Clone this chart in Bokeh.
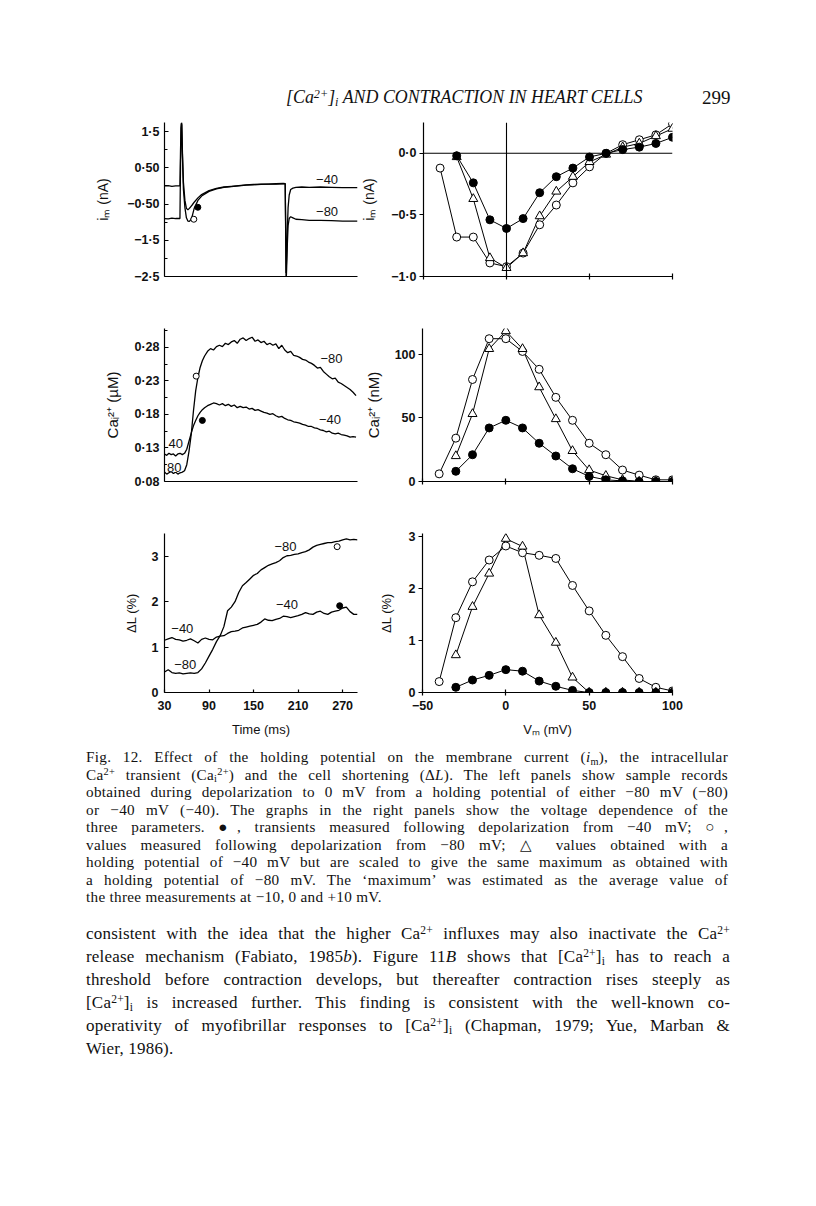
from bokeh.plotting import figure
from bokeh.models import Div, Span, Label, FixedTicker, Range1d
from bokeh.layouts import column, row
from bokeh.embed import file_html
from bokeh.resources import INLINE

# ---------------- data ----------------
# right panels: test potential (mV)
V_open = [-40, -30, -20, -10, 0, 10, 20, 30, 40, 50, 60, 70, 80, 90, 100]
V_rest = [-30, -20, -10, 0, 10, 20, 30, 40, 50, 60, 70, 80, 90, 100]

im_open = [-0.12, -0.68, -0.68, -0.89, -0.92, -0.81, -0.58, -0.42, -0.24, -0.11, 0.00, 0.07, 0.11, 0.15, 0.24]
im_tri = [-0.03, -0.37, -0.85, -0.93, -0.81, -0.51, -0.31, -0.19, -0.07, -0.01, 0.05, 0.08, 0.14, 0.20]
im_fill = [-0.02, -0.24, -0.54, -0.61, -0.53, -0.32, -0.19, -0.12, -0.03, 0.00, 0.03, 0.05, 0.08, 0.13]

ca_open = [6, 34, 80, 112, 112, 102, 88, 66, 48, 30, 21, 9, 5, 1.3, 1.3]
ca_tri = [20, 53, 104, 118, 104, 74, 49, 24, 9, 4.5, 1.3, 0, 0, 0]
ca_fill = [8, 21, 42, 48, 42, 30, 20, 10, 4, 1.3, 0.5, 0, 0, 0]

dl_open = [0.21, 1.44, 2.13, 2.55, 2.82, 2.69, 2.64, 2.58, 2.06, 1.57, 1.10, 0.69, 0.27, 0.10, 0.03]
dl_tri = [0.72, 1.65, 2.29, 2.96, 2.81, 1.49, 0.96, 0.29, 0.00, 0.00, 0.00, 0.00, 0.00, 0.00]
dl_fill = [0.10, 0.24, 0.33, 0.44, 0.41, 0.22, 0.12, 0.04, 0.00, 0.00, 0.00, 0.00, 0.00, 0.00]

# left panels: sample records (time in ms)
im_t = [30, 35, 40, 45, 50.8, 51.6, 52.4, 53.2, 54.2, 55.5, 57.5, 59.5, 61.5, 63.5, 65.5,
        67.5, 70, 75, 80, 90, 100, 110, 120, 130, 140, 150, 160, 170, 180, 190,
        192.6, 193.2, 193.8, 194.5, 195.5, 196.5, 198, 200, 203, 207, 215, 225, 240, 255, 270, 290]
im_40 = [0.00, 0.01, -0.01, 0.00, 0.00, 1.00, 1.70, 1.75, 0.90, 0.10, -0.40, -0.62, -0.66, -0.62, -0.57,
         -0.52, -0.45, -0.33, -0.24, -0.13, -0.07, -0.03, -0.01, 0.01, 0.03, 0.04, 0.05, 0.05, 0.06, 0.07,
         0.06, -1.00, -2.40, -2.00, -1.20, -0.60, -0.25, -0.10, -0.06, -0.04, -0.03, -0.04, -0.03, -0.04, -0.05, -0.05]
im_80 = [-0.90, -0.91, -0.89, -0.90, -0.90, 0.60, 1.60, 1.70, 0.80, -0.10, -0.60, -0.88, -0.97, -0.98, -0.93,
         -0.82, -0.62, -0.40, -0.28, -0.15, -0.08, -0.04, -0.02, 0.00, 0.02, 0.03, 0.04, 0.05, 0.05, 0.06,
         0.06, -1.20, -2.70, -2.30, -1.60, -1.10, -0.90, -0.85, -0.88, -0.92, -0.93, -0.95, -0.95, -0.96, -0.97, -0.97]
im_peak_t = [69.5, 74.9]
im_peak_v = [-0.92, -0.59]

ca_t = [30, 33, 36, 39, 42, 45, 48, 51, 54, 57, 60, 63, 66, 69, 72, 75, 78, 81, 84,
        88, 92, 96, 100, 104, 108, 112, 116, 120, 124, 128, 132, 136, 140, 144, 148, 152, 156, 160, 164,
        168, 172, 176, 180, 184, 188, 192, 196, 200, 204, 208, 212, 216, 220, 224, 228, 232, 236, 240, 244,
        248, 252, 256, 260, 264, 268, 272, 276, 280, 284, 288]
ca_80 = [0.094, 0.091, 0.093, 0.095, 0.092, 0.094, 0.091, 0.093, 0.094, 0.096,
         0.105, 0.125, 0.150, 0.185, 0.215, 0.235, 0.250, 0.260, 0.267,
         0.274, 0.278, 0.276, 0.281, 0.283, 0.281, 0.286, 0.284, 0.288, 0.290,
         0.286, 0.292, 0.294, 0.290, 0.293, 0.295, 0.289, 0.291, 0.287, 0.289,
         0.284, 0.286, 0.283, 0.285, 0.278, 0.283, 0.276, 0.272, 0.274, 0.268,
         0.267, 0.265, 0.262, 0.261, 0.258, 0.256, 0.253, 0.249, 0.250, 0.244,
         0.240, 0.236, 0.233, 0.234, 0.228, 0.226, 0.223, 0.220, 0.217, 0.213, 0.208]
ca_40 = [0.121, 0.119, 0.122, 0.120, 0.121, 0.118, 0.121, 0.122, 0.120, 0.122,
         0.128, 0.140, 0.152, 0.163, 0.171, 0.178, 0.183, 0.187, 0.190,
         0.193, 0.195, 0.197, 0.196, 0.194, 0.196, 0.193, 0.195, 0.192, 0.194,
         0.190, 0.192, 0.190, 0.191, 0.188, 0.189, 0.186, 0.187, 0.185, 0.183,
         0.182, 0.180, 0.181, 0.178, 0.176, 0.177, 0.174, 0.172, 0.171, 0.169,
         0.168, 0.167, 0.165, 0.164, 0.162, 0.162, 0.160, 0.159, 0.157, 0.156,
         0.154, 0.155, 0.152, 0.151, 0.152, 0.150, 0.149, 0.148, 0.146, 0.147, 0.146]
ca_peak_t = [72.7, 81.0]
ca_peak_v = [0.237, 0.171]

dl_t = [30, 35, 40, 45, 50, 55, 60, 65, 70, 75, 80, 85, 90, 95, 100, 105, 110, 115, 120, 125,
        130, 135, 140, 145, 150, 155, 160, 165, 170, 175, 180, 185, 190, 195, 200, 205, 210, 215,
        220, 225, 230, 235, 240, 245, 250, 255, 260, 265, 270, 275, 280, 285, 290]
dl_80 = [0.45, 0.50, 0.44, 0.42, 0.43, 0.41, 0.42, 0.43, 0.42, 0.44,
         0.52, 0.65, 0.80, 0.95, 1.12, 1.25, 1.45, 1.80, 1.88, 2.00,
         2.20, 2.35, 2.42, 2.50, 2.58, 2.62, 2.70, 2.75, 2.80, 2.83,
         2.86, 2.90, 2.97, 3.01, 3.02, 3.04, 3.05, 3.08, 3.10, 3.14,
         3.20, 3.24, 3.26, 3.28, 3.30, 3.30, 3.32, 3.33, 3.36, 3.38,
         3.36, 3.37, 3.36]
dl_40 = [1.15, 1.18, 1.21, 1.17, 1.16, 1.13, 1.15, 1.18, 1.14, 1.09,
         1.17, 1.20, 1.17, 1.16, 1.22, 1.24, 1.25, 1.30, 1.34, 1.35,
         1.37, 1.42, 1.44, 1.46, 1.48, 1.50, 1.55, 1.62, 1.59, 1.58,
         1.61, 1.63, 1.68, 1.67, 1.65, 1.67, 1.69, 1.72, 1.76, 1.73,
         1.72, 1.77, 1.79, 1.74, 1.72, 1.77, 1.79, 1.81, 1.86, 1.88,
         1.78, 1.72, 1.72]
dl_peak_t = [262.6, 266.0]
dl_peak_v = [3.21, 1.91]

# tick labels
im_ticks = [1.5, 0.5, -0.5, -1.5, -2.5]
im_labels = ["1·5", "0·50", "−0·50", "−1·5", "−2·5"]
im_minor = [1.0, 0.0, -1.0, -2.0]
ca_ticks = [0.08, 0.13, 0.18, 0.23, 0.28]
ca_labels = ["0·08", "0·13", "0·18", "0·23", "0·28"]
ca_minor = [0.105, 0.155, 0.205, 0.255, 0.305]
dl_ticks = [0, 1, 2, 3]
dl_labels = ["0", "1", "2", "3"]
t_ticks = [30, 90, 150, 210, 270]
t_labels = ["30", "90", "150", "210", "270"]
imv_ticks = [0.0, -0.5, -1.0]
imv_labels = ["0·0", "−0·5", "−1·0"]
cav_ticks = [0, 50, 100]
cav_labels = ["0", "50", "100"]
v_ticks = [-50, 0, 50, 100]
v_labels = ["−50", "0", "50", "100"]

SANS = "Liberation Sans"
SERIF = "Liberation Serif"


def panel(width, height, fig_left, fig_top, frame, xr, yr):
    fl, ft, fr, fb = frame
    mbl, mbt = fl - fig_left, ft - fig_top
    fw, fh = fr - fl, fb - ft
    p = figure(width=width, height=height, x_range=Range1d(*xr), y_range=Range1d(*yr),
               min_border_left=mbl, min_border_top=mbt,
               min_border_right=width - mbl - fw, min_border_bottom=height - mbt - fh,
               output_backend="svg", toolbar_location=None)
    p.outline_line_color = None
    p.grid.visible = False
    p.background_fill_color = "white"
    p.border_fill_color = "white"
    for ax in (p.xaxis[0], p.yaxis[0]):
        ax.axis_line_color = "black"
        ax.axis_line_width = 1.2
        ax.major_tick_line_color = "black"
        ax.major_tick_line_width = 1.2
        ax.minor_tick_line_color = "black"
        ax.major_label_text_font = SANS
        ax.major_label_text_font_size = "12.5px"
        ax.major_label_text_font_style = "bold"
        ax.major_label_text_color = "#111111"
        ax.axis_label_text_font = SANS
        ax.axis_label_text_font_size = "13px"
        ax.axis_label_text_font_style = "normal"
        ax.axis_label_text_color = "#111111"
    return p


def set_ticks(ax, ticks, labels, minor=None, tin=0, tout=0, mtin=0, standoff=4):
    ax.ticker = FixedTicker(ticks=ticks, minor_ticks=minor or [])
    ax.major_label_overrides = {t: l for t, l in zip(ticks, labels)}
    ax.major_tick_in = tin
    ax.major_tick_out = tout
    ax.minor_tick_in = mtin
    ax.minor_tick_out = 0
    ax.major_label_standoff = standoff


def lbl(p, x, y, text, bg=False):
    lab = Label(x=x, y=y, text=text, text_font=SANS, text_font_size="13px",
                text_align="center", text_baseline="middle", text_color="#111111")
    if bg:
        lab.background_fill_color = "white"
    p.add_layout(lab)


def trace(p, t, v):
    p.line(t, v, line_color="black", line_width=1.3)


def iv(p, x_o, y_o, x_r, y_t, y_f):
    p.line(x_o, y_o, line_color="black", line_width=1)
    p.line(x_r, y_t, line_color="black", line_width=1)
    p.line(x_r, y_f, line_color="black", line_width=1)
    p.scatter(x_o, y_o, marker="circle", size=8, fill_color="white", line_color="black", line_width=1)
    p.scatter(x_r, y_t, marker="triangle", size=9, fill_color="white", line_color="black", line_width=1)
    p.scatter(x_r, y_f, marker="circle", size=8, fill_color="black", line_color="black", line_width=1)


# page geometry (page pixels, window coordinates)
LW, RW = 358, 442
LX0, RX0 = 8, 8 + LW
LF = (172, 365)     # left frames, x
RF = (430, 680)     # right frames, x
TX = (30, 290)
VX = (-50, 100)

# ---------------- row 1 : membrane current ----------------
r1_top, r1_h = 116, 182
p1 = panel(LW, r1_h, LX0, r1_top, (LF[0], 130, LF[1], 284), TX, (-2.5, 1.75))
set_ticks(p1.yaxis[0], im_ticks, im_labels, im_minor, tin=4, mtin=3, standoff=5)
set_ticks(p1.xaxis[0], [], [])
p1.yaxis[0].axis_label = "iₘ (nA)"
p1.yaxis[0].axis_label_text_font_size = "14px"
p1.yaxis[0].axis_label_standoff = 13
trace(p1, im_t, im_40)
trace(p1, im_t, im_80)
p1.scatter(im_peak_t[:1], im_peak_v[:1], marker="circle", size=6, fill_color="white", line_color="black")
p1.scatter(im_peak_t[1:], im_peak_v[1:], marker="circle", size=6, fill_color="black", line_color="black")
lbl(p1, 249, 0.17, "−40")
lbl(p1, 249, -0.71, "−80")

p2 = panel(RW, r1_h, RX0, r1_top, (RF[0], 130, RF[1], 284), VX, (-1.0, 0.25))
set_ticks(p2.yaxis[0], imv_ticks, imv_labels, tout=4, standoff=3)
set_ticks(p2.xaxis[0], v_ticks, ["", "", "", ""], tin=3, tout=3)
p2.yaxis[0].axis_label = "iₘ (nA)"
p2.yaxis[0].axis_label_text_font_size = "14px"
p2.yaxis[0].axis_label_standoff = 11
p2.add_layout(Span(location=0, dimension="width", line_color="black", line_width=1.1))
p2.add_layout(Span(location=0, dimension="height", line_color="black", line_width=1.1))
iv(p2, V_open, im_open, V_rest, im_tri, im_fill)

# ---------------- row 2 : calcium ----------------
r2_top, r2_h = 298, 210
p3 = panel(LW, r2_h, LX0, r2_top, (LF[0], 327, LF[1], 489), TX, (0.08, 0.308))
set_ticks(p3.yaxis[0], ca_ticks, ca_labels, ca_minor, tin=4, mtin=3, standoff=5)
set_ticks(p3.xaxis[0], [], [])
p3.yaxis[0].axis_label = "Caᵢ²⁺ (µM)"
p3.yaxis[0].axis_label_text_font_size = "15px"
p3.yaxis[0].axis_label_standoff = 10
trace(p3, ca_t, ca_80)
trace(p3, ca_t, ca_40)
p3.scatter(ca_peak_t[:1], ca_peak_v[:1], marker="circle", size=6, fill_color="white", line_color="black")
p3.scatter(ca_peak_t[1:], ca_peak_v[1:], marker="circle", size=6, fill_color="black", line_color="black")
lbl(p3, 255, 0.263, "−80")
lbl(p3, 253, 0.173, "−40")
lbl(p3, 45, 0.136, "40", bg=True)
lbl(p3, 43, 0.101, "80", bg=True)

p4 = panel(RW, r2_h, RX0, r2_top, (RF[0], 336, RF[1], 491), VX, (0, 120))
set_ticks(p4.yaxis[0], cav_ticks, cav_labels, tout=4, standoff=3)
set_ticks(p4.xaxis[0], v_ticks, ["", "", "", ""], tin=3, tout=3)
p4.yaxis[0].axis_label = "Caᵢ²⁺ (nM)"
p4.yaxis[0].axis_label_text_font_size = "15px"
p4.yaxis[0].axis_label_standoff = 10
iv(p4, V_open, ca_open, V_rest, ca_tri, ca_fill)

# ---------------- row 3 : shortening ----------------
r3_top, r3_h = 508, 245
p5 = panel(LW, r3_h, LX0, r3_top, (LF[0], 533, LF[1], 700), TX, (0, 3.5))
set_ticks(p5.yaxis[0], dl_ticks, dl_labels, tin=4, standoff=6)
set_ticks(p5.xaxis[0], t_ticks, t_labels, tin=3, standoff=8)
p5.yaxis[0].axis_label = "ΔL (%)"
p5.yaxis[0].axis_label_standoff = 10
p5.xaxis[0].axis_label = "Time (ms)"
p5.xaxis[0].axis_label_standoff = 9
trace(p5, dl_t, dl_80)
trace(p5, dl_t, dl_40)
p5.scatter(dl_peak_t[:1], dl_peak_v[:1], marker="circle", size=6, fill_color="white", line_color="black")
p5.scatter(dl_peak_t[1:], dl_peak_v[1:], marker="circle", size=6, fill_color="black", line_color="black")
lbl(p5, 193, 3.21, "−80")
lbl(p5, 195, 1.93, "−40")
lbl(p5, 54, 1.40, "−40")
lbl(p5, 58, 0.61, "−80")

p6 = panel(RW, r3_h, RX0, r3_top, (RF[0], 541, RF[1], 700), VX, (0, 3.06))
set_ticks(p6.yaxis[0], dl_ticks, dl_labels, tout=4, standoff=3)
set_ticks(p6.xaxis[0], v_ticks, v_labels, tin=3, tout=3, standoff=5)
p6.yaxis[0].axis_label = "ΔL (%)"
p6.yaxis[0].axis_label_standoff = 12
p6.xaxis[0].axis_label = "Vₘ (mV)"
p6.xaxis[0].axis_label_standoff = 9
iv(p6, V_open, dl_open, V_rest, dl_tri, dl_fill)

# ---------------- text ----------------
STYLE = ("<style>sup,sub{font-size:0.68em;line-height:0;position:relative;vertical-align:baseline;}"
         "sup{top:-0.45em;} sub{top:0.25em;}</style>")

header_html = (STYLE +
               '<div style="position:relative;width:800px;height:108px;font-family:\'Liberation Serif\';'
               'color:#111;">'
               '<span style="position:absolute;left:286px;top:85px;font-size:17.9px;font-style:italic;'
               'white-space:nowrap;">[Ca<sup>2+</sup>]<sub>i</sub> AND CONTRACTION IN HEART CELLS</span>'
               '<span style="position:absolute;left:702px;top:84px;font-size:19px;">299</span></div>')

caption_lines = [
    "Fig. 12. Effect of the holding potential on the membrane current (<i>i</i><sub>m</sub>), the intracellular",
    "Ca<sup>2+</sup> transient (Ca<sub>i</sub><sup>2+</sup>) and the cell shortening (Δ<i>L</i>). The left panels show sample records",
    "obtained during depolarization to 0 mV from a holding potential of either −80 mV (−80)",
    "or −40 mV (−40). The graphs in the right panels show the voltage dependence of the",
    "three parameters. ●, transients measured following depolarization from −40 mV; ○,",
    "values measured following depolarization from −80 mV; △ values obtained with a",
    "holding potential of −40 mV but are scaled to give the same maximum as obtained with",
    "a holding potential of −80 mV. The ‘maximum’ was estimated as the average value of",
    "the three measurements at −10, 0 and +10 mV.",
]
body_lines = [
    "consistent with the idea that the higher Ca<sup>2+</sup> influxes may also inactivate the Ca<sup>2+</sup>",
    "release mechanism (Fabiato, 1985<i>b</i>). Figure 11<i>B</i> shows that [Ca<sup>2+</sup>]<sub>i</sub> has to reach a",
    "threshold before contraction develops, but thereafter contraction rises steeply as",
    "[Ca<sup>2+</sup>]<sub>i</sub> is increased further. This finding is consistent with the well-known co-",
    "operativity of myofibrillar responses to [Ca<sup>2+</sup>]<sub>i</sub> (Chapman, 1979; Yue, Marban &amp;",
    "Wier, 1986).",
]


def block(lines, left, width, size, lh, pad_top, ls):
    out = [STYLE, '<div style="padding-top:%spx;padding-left:%dpx;font-family:\'Liberation Serif\';'
                  'font-size:%spx;letter-spacing:%spx;color:#111;">' % (pad_top, left, size, ls)]
    for i, ln in enumerate(lines):
        last = i == len(lines) - 1
        al = "left" if last else "justify"
        out.append('<div style="width:%dpx;height:%spx;line-height:%spx;white-space:nowrap;'
                   'text-align:justify;text-align-last:%s;">%s</div>' % (width, lh, lh, al, ln))
    out.append("</div>")
    return "".join(out)


header = Div(text=header_html, width=800, height=108, margin=0)
caption = Div(text=block(caption_lines, 86, 642, 15.2, 17.5, 3, 0.3), width=800, height=170, margin=0)
body = Div(text=block(body_lines, 86, 644, 17, 23, 7, 0.2), width=800, height=160, margin=0)

for p in (p1, p2, p3, p4, p5, p6):
    p.margin = 0

layout = column(header,
                row(p1, p2, spacing=0),
                row(p3, p4, spacing=0),
                row(p5, p6, spacing=0),
                caption, body, spacing=0)

open("out.html", "w").write(file_html(layout, INLINE))
